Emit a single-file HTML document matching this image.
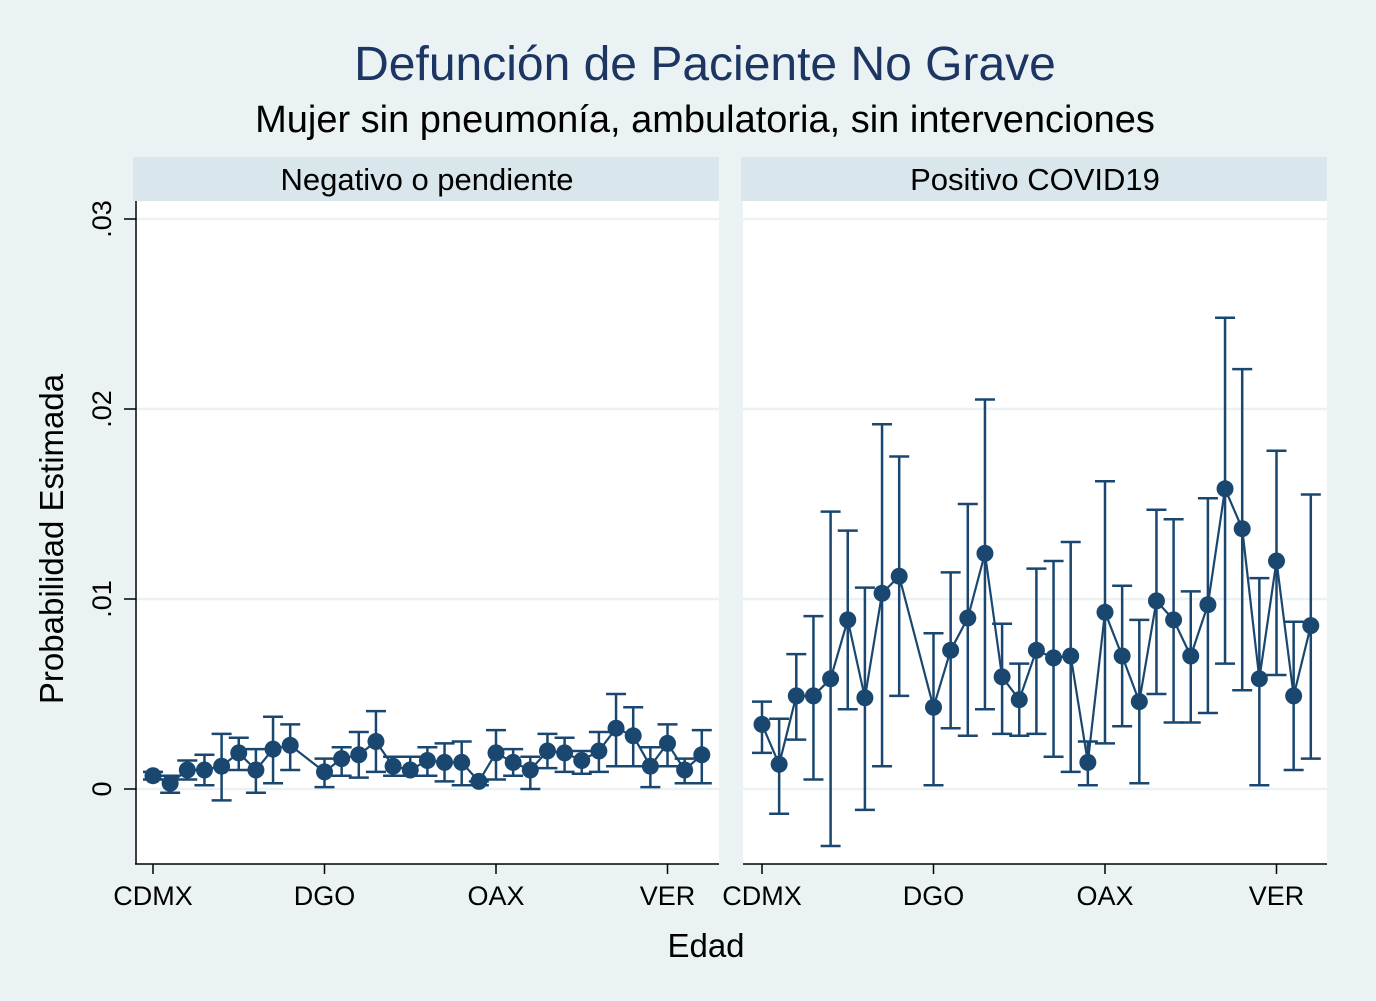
<!DOCTYPE html>
<html><head><meta charset="utf-8"><style>
body{margin:0;background:#eaf2f3;}
svg{display:block;font-family:"Liberation Sans",Arial,sans-serif;}
</style></head><body>
<svg id="chart" width="1376" height="1001">
<rect x="0" y="0" width="1376" height="1001" fill="#eaf2f3"/>
<text x="705" y="80" font-size="48" fill="#1c3563" text-anchor="middle">Defunción de Paciente No Grave</text>
<text x="705" y="132" font-size="38" fill="#000" text-anchor="middle">Mujer sin pneumonía, ambulatoria, sin intervenciones</text>
<text transform="translate(63,539) rotate(-90)" font-size="33" text-anchor="middle">Probabilidad Estimada</text>
<text x="706" y="957" font-size="33" text-anchor="middle">Edad</text>
<g id="panels"></g>
</svg>
<script>
const idx = [1,2,3,4,5,6,7,8,9,11,12,13,14,15,16,17,18,19,20,21,22,23,24,25,26,27,28,29,30,31,32,33];
const xTicks = [1,11,21,31];
const xTickLabels = ["CDMX","DGO","OAX","VER"];
const yTicks = [0,0.01,0.02,0.03];
const yTickLabels = ["0",".01",".02",".03"];
const panelTitles = ["Negativo o pendiente","Positivo COVID19"];
const negEst = [.0007,.0003,.0010,.0010,.0012,.0019,.0010,.0021,.0023,.0009,.0016,.0018,.0025,.0012,.0010,.0015,.0014,.0014,.0004,.0019,.0014,.0010,.0020,.0019,.0015,.0020,.0032,.0028,.0012,.0024,.0010,.0018];
const negLo = [.0005,-.0002,.0005,.0002,-.0006,.0010,-.0002,.0003,.0010,.0001,.0007,.0006,.0009,.0007,.0007,.0007,.0004,.0002,.0002,.0005,.0007,.0000,.0011,.0009,.0008,.0009,.0012,.0012,.0001,.0012,.0003,.0003];
const negHi = [.0009,.0007,.0015,.0018,.0029,.0027,.0021,.0038,.0034,.0016,.0022,.0030,.0041,.0017,.0017,.0022,.0024,.0025,.0004,.0031,.0021,.0017,.0029,.0027,.0020,.0030,.0050,.0043,.0022,.0034,.0016,.0031];
const posEst = [.0034,.0013,.0049,.0049,.0058,.0089,.0048,.0103,.0112,.0043,.0073,.0090,.0124,.0059,.0047,.0073,.0069,.0070,.0014,.0093,.0070,.0046,.0099,.0089,.0070,.0097,.0158,.0137,.0058,.0120,.0049,.0086];
const posLo = [.0019,-.0013,.0026,.0005,-.0030,.0042,-.0011,.0012,.0049,.0002,.0032,.0028,.0042,.0029,.0028,.0029,.0017,.0009,.0002,.0024,.0033,.0003,.0050,.0035,.0035,.0040,.0066,.0052,.0002,.0060,.0010,.0016];
const posHi = [.0046,.0037,.0071,.0091,.0146,.0136,.0106,.0192,.0175,.0082,.0114,.0150,.0205,.0087,.0066,.0116,.0120,.0130,.0025,.0162,.0107,.0089,.0147,.0142,.0104,.0153,.0248,.0221,.0111,.0178,.0088,.0155];

const NS="http://www.w3.org/2000/svg";
const C="#1a476f";
const g=document.getElementById('panels');
function mk(t,a,p){const e=document.createElementNS(NS,t);for(const k in a)e.setAttribute(k,a[k]);(p||g).appendChild(e);return e;}
const yTop=201,yBot=864;
function ys(v){return 789-v*19000;}
const panels=[{x0:135,x1:719,first:153,est:negEst,lo:negLo,hi:negHi,axis:true},{x0:743,x1:1327,first:762,est:posEst,lo:posLo,hi:posHi,axis:false}];
panels.forEach((P,pi)=>{
  const xs=i=>P.first+(i-1)*17.15;
  const pg=mk('g',{});
  
  
  const hd=mk('rect',{x:P.x0-2,y:157,width:P.x1-P.x0+2,height:44,fill:'#d9e6eb'},pg);
  
  
  const ht=mk('text',{x:(P.x0+P.x1)/2,y:190,'font-size':31,'text-anchor':'middle'},pg);
  ht.textContent=panelTitles[pi];
  
  
  mk('rect',{x:P.x0,y:yTop,width:P.x1-P.x0,height:yBot-yTop,fill:'#fff'},pg);
  yTicks.forEach((t,k)=>{
    const gl=mk('line',{x1:P.x0,x2:P.x1,y1:ys(t),y2:ys(t),stroke:'#eaf2f3','stroke-width':2.5},pg);
    
    
    if(P.axis){
      mk('line',{x1:124,x2:136,y1:ys(t),y2:ys(t),stroke:'#000','stroke-width':1.5},pg);
      const tl=mk('text',{transform:`translate(111,${ys(t)}) rotate(-90)`,'font-size':27,'text-anchor':'middle'},pg);
      tl.textContent=yTickLabels[k];
      
      
    }
  });
  if(P.axis) mk('line',{x1:136,x2:136,y1:yTop,y2:yBot,stroke:'#000','stroke-width':1.5},pg);
  mk('line',{x1:P.x0,x2:P.x1,y1:yBot,y2:yBot,stroke:'#000','stroke-width':1.5},pg);
  xTicks.forEach((t,k)=>{
    mk('line',{x1:xs(t),x2:xs(t),y1:yBot,y2:yBot+10,stroke:'#000','stroke-width':1.5},pg);
    const tl=mk('text',{x:xs(t),y:905,'font-size':27,'text-anchor':'middle'},pg);
    tl.textContent=xTickLabels[k];
    
    
  });
  const pts=idx.map((i,k)=>xs(i)+','+ys(P.est[k])).join(' ');
  const ln=mk('polyline',{points:pts,fill:'none',stroke:C,'stroke-width':2.2},pg);
  
  
  idx.forEach((i,k)=>{
    const x=xs(i);
    const eb=mk('path',{d:`M${x},${ys(P.lo[k])}V${ys(P.hi[k])}M${x-10},${ys(P.lo[k])}H${x+10}M${x-10},${ys(P.hi[k])}H${x+10}`,stroke:C,'stroke-width':2.5,fill:'none'},pg);
    
    
    const c=mk('circle',{cx:x,cy:ys(P.est[k]),r:8.5,fill:C},pg);
    
    
  });
});
</script>
</body></html>
